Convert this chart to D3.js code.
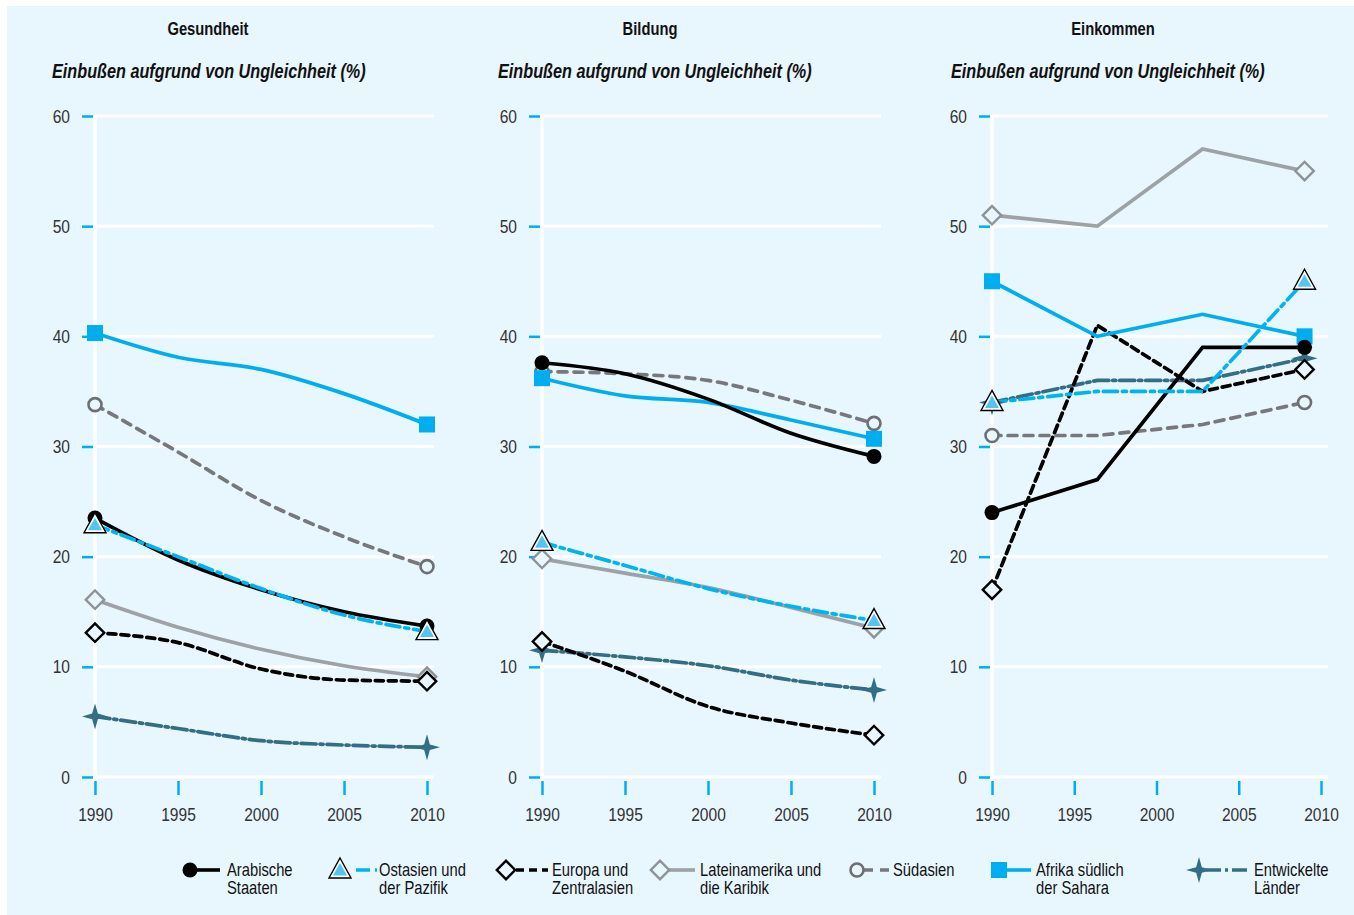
<!DOCTYPE html>
<html><head><meta charset="utf-8">
<script src="https://cdn.jsdelivr.net/npm/d3@7"></script>
<style>
body{margin:0;background:#fff;}
svg{display:block;font-family:"Liberation Sans",Arial,sans-serif;}
</style></head><body>
<svg id="c" width="1354" height="915"></svg>
<script>
// ---- data ----
const panelTitles = ["Gesundheit", "Bildung", "Einkommen"];
const subtitle = "Einbußen aufgrund von Ungleichheit (%)";
const yTicks = [0, 10, 20, 30, 40, 50, 60];
const xTicks = [1990, 1995, 2000, 2005, 2010];
const yearsHealth = [1990, 1995, 2000, 2005, 2010];
const yearsEducation = [1990, 1995, 2000, 2005, 2010];
const yearsIncome = [1990, 1996.4, 2002.8, 2009];
const regions = ["Arabische Staaten", "Ostasien und der Pazifik", "Europa und Zentralasien",
  "Lateinamerika und die Karibik", "Südasien", "Afrika südlich der Sahara", "Entwickelte Länder"];
const legendLines = [["Arabische","Staaten"],["Ostasien und","der Pazifik"],["Europa und","Zentralasien"],
  ["Lateinamerika und","die Karibik"],["Südasien"],["Afrika südlich","der Sahara"],["Entwickelte","Länder"]];
// values per region (same order as regions)
const healthValues = [
  [23.5, 19.7, 17.0, 15.0, 13.7],
  [22.9, 20.0, 17.1, 14.7, 13.2],
  [13.1, 12.2, 9.8, 8.8, 8.7],
  [16.1, 13.6, 11.6, 10.1, 9.1],
  [33.8, 29.5, 25.1, 21.8, 19.1],
  [40.3, 38.1, 37.0, 34.8, 32.0],
  [5.5, 4.4, 3.3, 2.9, 2.7]
];
const educationValues = [
  [37.6, 36.6, 34.3, 31.2, 29.1],
  [21.3, 19.2, 17.1, 15.5, 14.2],
  [12.3, 9.6, 6.4, 4.9, 3.8],
  [19.8, 18.5, 17.2, 15.4, 13.5],
  [36.8, 36.6, 36.0, 34.2, 32.1],
  [36.2, 34.6, 34.0, 32.4, 30.7],
  [11.5, 10.9, 10.1, 8.8, 7.9]
];
const incomeValues = [
  [24, 27, 39, 39],
  [34, 35, 35, 45],
  [17, 41, 35, 37],
  [51, 50, 57, 55],
  [31, 31, 32, 34],
  [45, 40, 42, 40],
  [34, 36, 36, 38]
];

// ---- styles ----
const BG = "#e8f6fe";
const S = 0.82; // horizontal condensing of text
const styles = [
  {color:"#000000", dash:null, marker:"circle"},
  {color:"#00b4ef", dash:"14,5,4,5", marker:"triangle"},
  {color:"#000000", dash:"8,5", marker:"diamond"},
  {color:"#9ca2a6", dash:null, marker:"diamondGrey"},
  {color:"#76787b", dash:"9,7", marker:"ring"},
  {color:"#00aeef", dash:null, marker:"square"},
  {color:"#336e84", dash:"15,4,3,4", marker:"star"}
];
const drawOrder = [6, 3, 2, 4, 5, 0, 1];

function cond(sel){
  sel.each(function(){
    const t = d3.select(this);
    const x = +(t.attr("x") || 0);
    t.attr("x", x / S).attr("transform", `scale(${S},1)`);
    t.selectAll("tspan").each(function(){
      const ts = d3.select(this);
      if (ts.attr("x") != null) ts.attr("x", +ts.attr("x") / S);
    });
  });
}

const svg = d3.select("#c");
svg.append("rect").attr("x",7).attr("y",6).attr("width",1347).attr("height",909).attr("fill",BG);

const star4 = {draw(ctx, size){
  const r = Math.sqrt(size)*0.75, w = r*0.22;
  ctx.moveTo(0,-r); ctx.lineTo(w,-w); ctx.lineTo(r,0); ctx.lineTo(w,w);
  ctx.lineTo(0,r); ctx.lineTo(-w,w); ctx.lineTo(-r,0); ctx.lineTo(-w,-w); ctx.closePath();
}};

function drawMarker(g, type, x, y){
  const m = g.append("g").attr("transform",`translate(${x},${y})`);
  if(type==="circle"){
    m.append("circle").attr("r",7.5).attr("fill","#000");
  } else if(type==="ring"){
    m.append("circle").attr("r",6.5).attr("fill",BG).attr("stroke","#6d6f72").attr("stroke-width",2.6);
  } else if(type==="square"){
    m.append("rect").attr("x",-8).attr("y",-8).attr("width",16).attr("height",16).attr("fill","#00aeef");
  } else if(type==="diamond" || type==="diamondGrey"){
    m.append("path").attr("d",d3.symbol(d3.symbolSquare,170)())
      .attr("transform","rotate(45)").attr("fill",BG)
      .attr("stroke", type==="diamond" ? "#000" : "#8d9396").attr("stroke-width",2.4);
  } else if(type==="triangle"){
    m.append("path").attr("d","M0,-12 L11,8 L-11,8 Z").attr("fill","#fff").attr("stroke","#000").attr("stroke-width",1.4);
    m.append("path").attr("d","M0,-7 L7,5.5 L-7,5.5 Z").attr("fill","#55c5f0");
  } else if(type==="star"){
    m.append("path").attr("d",d3.symbol(star4,300)()).attr("fill","#336e84");
  }
}

const panels = [
  {x0:95, x1:427, tx:208, sx:52, years:yearsHealth, values:healthValues, curve:d3.curveMonotoneX},
  {x0:542, x1:874, tx:650, sx:498, years:yearsEducation, values:educationValues, curve:d3.curveMonotoneX},
  {x0:992, x1:1321, tx:1113, sx:951, years:yearsIncome, values:incomeValues, curve:d3.curveLinear}
];

const y = d3.scaleLinear().domain([0,60]).range([777,116]);

panels.forEach((p, pi) => {
  const g = svg.append("g");
  const x = d3.scaleLinear().domain([1990,2010]).range([p.x0,p.x1]);
  g.append("text").attr("x",p.tx).attr("y",35).attr("text-anchor","middle")
    .attr("font-weight","bold").attr("font-size",18).attr("fill","#111").text(panelTitles[pi]).call(cond);
  g.append("text").attr("x",p.sx).attr("y",78).attr("font-weight","bold").attr("font-style","italic")
    .attr("font-size",19.8).attr("fill","#111").text(subtitle).call(cond);

  g.selectAll(".grid").data(yTicks).join("line")
    .attr("x1",p.x0).attr("x2",p.x1+7).attr("y1",d=>y(d)).attr("y2",d=>y(d))
    .attr("stroke","#fff").attr("stroke-width",3);
  g.append("line").attr("x1",p.x0).attr("x2",p.x0).attr("y1",y(60)-1).attr("y2",y(0)+6)
    .attr("stroke","#fff").attr("stroke-width",3.5);

  const ya = g.append("g").attr("transform",`translate(${p.x0-2},0)`)
    .call(d3.axisLeft(y).tickValues(yTicks).tickSize(11).tickPadding(12).tickFormat(d3.format("d")));
  ya.select(".domain").remove();
  ya.selectAll(".tick line").attr("stroke","#00aeef").attr("stroke-width",2.5);
  ya.selectAll(".tick text").attr("font-size",19).attr("fill","#333").attr("font-family",null).call(cond);

  const xa = g.append("g").attr("transform",`translate(0,${y(0)+4})`)
    .call(d3.axisBottom(x).tickValues(xTicks).tickSize(14).tickPadding(13).tickFormat(d3.format("d")));
  xa.select(".domain").remove();
  xa.selectAll(".tick line").attr("stroke","#00aeef").attr("stroke-width",2.5);
  xa.selectAll(".tick text").attr("font-size",19).attr("fill","#333").attr("font-family",null).call(cond);

  const line = d3.line().x(d=>x(d[0])).y(d=>y(d[1])).curve(p.curve);
  drawOrder.forEach(ri => {
    const s = styles[ri];
    const pts = p.years.map((yr,i)=>[yr, p.values[ri][i]]);
    if(ri===6){
      g.append("path").attr("d",line(pts)).attr("fill","none").attr("stroke","#9aa8ae").attr("stroke-width",1.2);
    }
    g.append("path").attr("d",line(pts)).attr("fill","none").attr("stroke",s.color)
      .attr("stroke-width",3.7).attr("stroke-dasharray",s.dash).attr("stroke-linecap", s.dash ? "round" : "butt");
  });
  drawOrder.forEach(ri => {
    const s = styles[ri];
    const n = p.years.length;
    drawMarker(g, s.marker, x(p.years[0]), y(p.values[ri][0]));
    drawMarker(g, s.marker, x(p.years[n-1]), y(p.values[ri][n-1]));
  });
});

// legend
const legendPos = [
  {mx:190, lx1:190, lx2:220, tx:227},
  {mx:340, lx1:356, lx2:377, tx:379},
  {mx:506, lx1:516, lx2:548, tx:552},
  {mx:660, lx1:668, lx2:695, tx:700},
  {mx:857, lx1:864, lx2:889, tx:893},
  {mx:999, lx1:1004, lx2:1031, tx:1036},
  {mx:1199, lx1:1206, lx2:1249, tx:1254}
];
const lg = svg.append("g");
regions.forEach((r, i) => {
  const s = styles[i], p = legendPos[i];
  const ly = 870;
  lg.append("line").attr("x1",p.lx1).attr("x2",p.lx2).attr("y1",ly).attr("y2",ly)
    .attr("stroke",s.color).attr("stroke-width",3.6).attr("stroke-dasharray",s.dash);
  drawMarker(lg, s.marker, p.mx, ly);
  const t = lg.append("text").attr("x",p.tx).attr("y",876).attr("font-size",18).attr("fill","#111");
  legendLines[i].forEach((ln, k) => {
    t.append("tspan").attr("x",p.tx).attr("dy", k===0 ? 0 : 18).text(ln);
  });
  t.call(cond);
});
</script>
</body></html>
